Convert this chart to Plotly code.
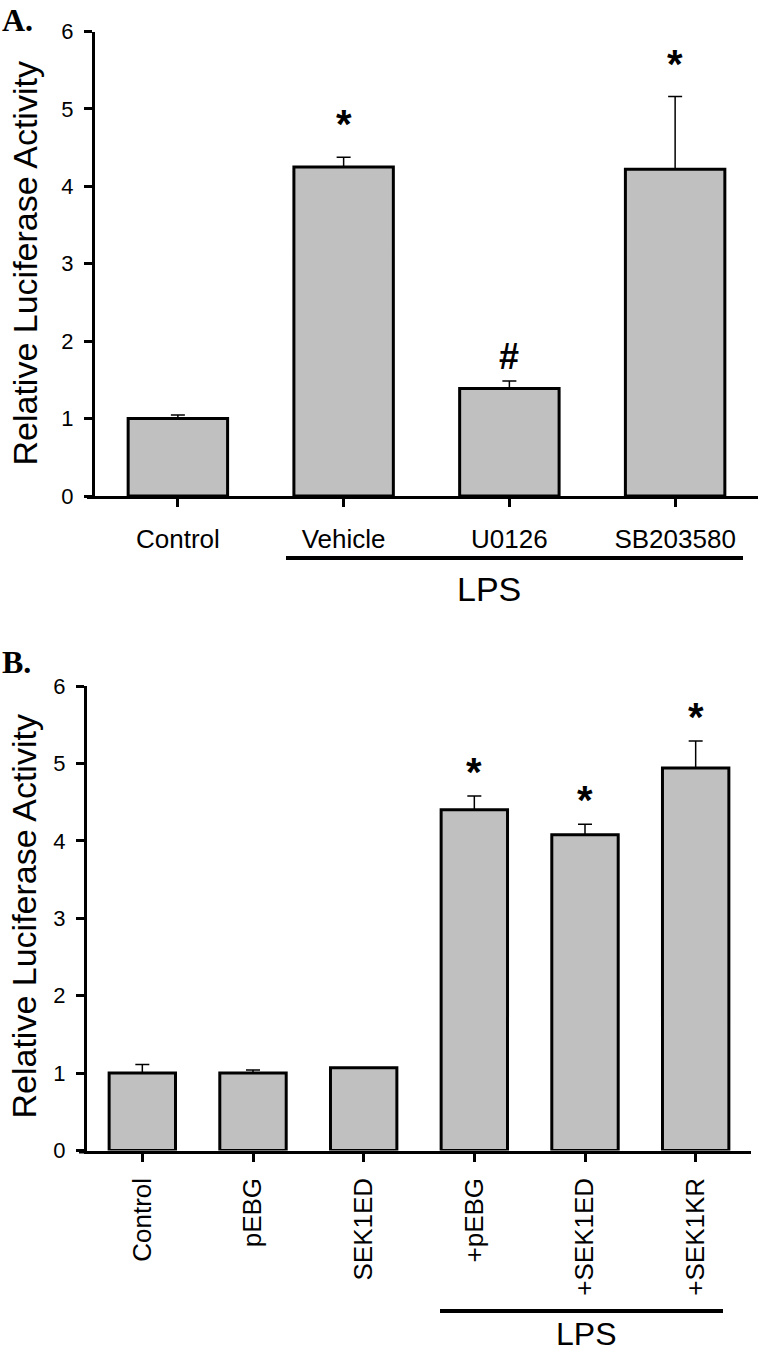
import plotly.graph_objects as go

W, H = 760, 1355

# ---- data ----
a_labels = ["Control", "Vehicle", "U0126", "SB203580"]
a_values = [1.00, 4.25, 1.39, 4.22]
a_errors = [0.045, 0.125, 0.094, 0.94]
a_marks = ["", "*", "#", "*"]

b_labels = ["Control", "pEBG", "SEK1ED", "+pEBG", "+SEK1ED", "+SEK1KR"]
b_values = [1.00, 1.00, 1.07, 4.40, 4.08, 4.94]
b_errors = [0.11, 0.04, 0.0, 0.18, 0.135, 0.35]
b_marks = ["", "", "", "*", "*", "*"]

y_ticks = [0, 1, 2, 3, 4, 5, 6]
y_title = "Relative Luciferase Activity"
group_label = "LPS"

FONT = "Liberation Sans, Arial, sans-serif"
SERIF = "Liberation Serif, Times New Roman, serif"
FILL = "#c0c0c0"


def px(x):
    return x / W


def py(y):
    return 1 - y / H


fig = go.Figure()

for lab, val, err, xa, ya in [
    (a_labels, a_values, a_errors, "x", "y"),
    (b_labels, b_values, b_errors, "x2", "y2"),
]:
    fig.add_trace(go.Bar(
        x=lab, y=val, xaxis=xa, yaxis=ya, width=0.6,
        marker=dict(color=FILL, line=dict(color="black", width=3)),
        error_y=dict(type="data", symmetric=False, array=err,
                     arrayminus=[0] * len(err), color="black",
                     thickness=1.5, width=7),
        showlegend=False, hoverinfo="x+y",
    ))

axis_common = dict(showline=True, linecolor="black", linewidth=3,
                   ticks="outside", ticklen=8, tickwidth=3, tickcolor="black",
                   showgrid=False, zeroline=False, fixedrange=True)

fig.update_layout(
    width=W, height=H,
    margin=dict(l=0, r=0, t=0, b=0, autoexpand=False),
    paper_bgcolor="white", plot_bgcolor="white",
    font=dict(family=FONT, color="black"),
    bargap=0.4,
    xaxis=dict(domain=[px(95), px(758)], range=[-0.5, 3.5], anchor="y",
               type="category", tickfont=dict(size=26),
               ticklabelstandoff=10, **axis_common),
    yaxis=dict(domain=[py(496), py(31.5)], range=[0, 6], anchor="x",
               tickvals=y_ticks, tickfont=dict(size=22),
               ticklabelstandoff=6, **axis_common),
    xaxis2=dict(domain=[px(87), px(751)], range=[-0.5, 5.5], anchor="y2",
                type="category", tickfont=dict(size=26), tickangle=-90,
                ticklabelstandoff=6, **axis_common),
    yaxis2=dict(domain=[py(1150.5), py(686)], range=[0, 6], anchor="x2",
                tickvals=y_ticks, tickfont=dict(size=22),
                ticklabelstandoff=6, **axis_common),
)

ann = []
# significance marks, placed above each error bar
for lab, val, err, marks, xa, ya, shifts in [
    (a_labels, a_values, a_errors, a_marks, "x", "y", {"*": 33, "#": 25}),
    (b_labels, b_values, b_errors, b_marks, "x2", "y2", {"*": 24}),
]:
    for l, v, e, m in zip(lab, val, err, marks):
        if m:
            ann.append(dict(x=l, y=v + e, xref=xa, yref=ya, text="<b>" + m + "</b>",
                            showarrow=False, yshift=shifts[m],
                            font=dict(size=40 if m == "*" else 36, family=FONT,
                                      color="black"),
                            xanchor="center", yanchor="middle"))

common = dict(xref="paper", yref="paper", showarrow=False)
# axis titles
ann.append(dict(x=px(24), y=py(263.5), text=y_title, textangle=-90,
                xanchor="center", yanchor="middle",
                font=dict(size=34, family=FONT), **common))
ann.append(dict(x=px(23.5), y=py(917), text=y_title, textangle=-90,
                xanchor="center", yanchor="middle",
                font=dict(size=34, family=FONT), **common))
# panel letters
ann.append(dict(x=0, y=1, text="<b>A.</b>", xanchor="left", yanchor="top",
                font=dict(size=32, family=SERIF), **common))
ann.append(dict(x=0, y=py(662), text="<b>B.</b>", xanchor="left", yanchor="middle",
                font=dict(size=32, family=SERIF), **common))
# LPS group labels
ann.append(dict(x=px(489), y=py(589), text=group_label, xanchor="center",
                yanchor="middle", font=dict(size=34, family=FONT), **common))
ann.append(dict(x=px(586), y=py(1354), text=group_label, xanchor="center",
                yanchor="bottom", font=dict(size=32, family=FONT), **common))

fig.update_layout(annotations=ann)

shapes = [
    # group bars under LPS-treated categories
    dict(type="line", xref="paper", yref="paper", x0=px(286), x1=px(743),
         y0=py(558), y1=py(558), line=dict(color="black", width=4)),
    dict(type="line", xref="paper", yref="paper", x0=px(440), x1=px(723),
         y0=py(1311), y1=py(1311), line=dict(color="black", width=4)),
    # x-axis lines run slightly left of the y-axis in the reference
    dict(type="line", xref="paper", yref="paper", x0=px(87), x1=px(95),
         y0=py(497.5), y1=py(497.5), line=dict(color="black", width=3)),
    dict(type="line", xref="paper", yref="paper", x0=px(79), x1=px(87),
         y0=py(1152), y1=py(1152), line=dict(color="black", width=3)),
]
fig.update_layout(shapes=shapes)

# remove the default page margin so the figure fills the window exactly
fig.write_html("out.html",
               config={"displayModeBar": False},
               post_script="document.body.style.margin='0';"
                           "document.body.style.overflow='hidden';")
